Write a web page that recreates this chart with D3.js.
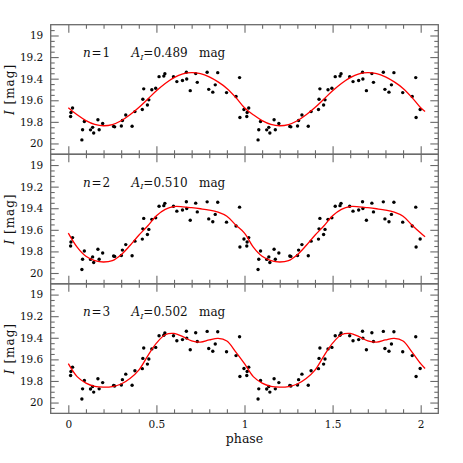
<!doctype html>
<html>

<head>
    <meta charset="utf-8">
    <title>
        Phased light curves
    </title>
    <style>
    body { margin: 0; background: #fff; }
    text { font-family: "DejaVu Serif", serif; fill: #111; }
    </style>
</head>

<body>
    <script src="https://d3js.org/d3.v7.min.js"></script>
    <script>
    // observed points, one cycle (phase, I mag) - plotted again at phase + 1
    var obsPhase = [0.013, 0.015, 0.024, 0.077, 0.081, 0.091, 0.126, 0.138, 0.144, 0.168,
        0.175, 0.195, 0.257, 0.263, 0.301, 0.307, 0.326, 0.362, 0.378, 0.420,
        0.423, 0.449, 0.457, 0.428, 0.474, 0.496, 0.515, 0.542, 0.548, 0.597,
        0.616, 0.648, 0.670, 0.672, 0.692, 0.723, 0.732, 0.788, 0.797, 0.820,
        0.834, 0.848, 0.898, 0.952, 0.972, 0.974, 0.997];
    var obsMag = [19.750, 19.713, 19.672, 19.967, 19.873, 19.796, 19.874, 19.851, 19.903, 19.780,
        19.873, 19.815, 19.842, 19.846, 19.838, 19.788, 19.737, 19.840, 19.705, 19.686,
        19.591, 19.644, 19.596, 19.494, 19.503, 19.489, 19.381, 19.376, 19.355, 19.381,
        19.427, 19.417, 19.340, 19.403, 19.511, 19.353, 19.434, 19.341, 19.499, 19.525,
        19.457, 19.344, 19.529, 19.565, 19.390, 19.759, 19.685];

    // fitted curves, one cycle
    var fitPhase = [0, 0.05, 0.10, 0.15, 0.20, 0.25, 0.30, 0.35, 0.40, 0.45, 0.50,
        0.55, 0.60, 0.65, 0.70, 0.75, 0.80, 0.85, 0.90, 0.95, 1.00];
    var fitN1 = [19.670, 19.735, 19.788, 19.823, 19.836, 19.825, 19.790, 19.735, 19.667, 19.590, 19.512,
        19.444, 19.390, 19.356, 19.344, 19.353, 19.383, 19.430, 19.490, 19.573, 19.670];
    var fitN2 = [19.630, 19.760, 19.845, 19.885, 19.898, 19.885, 19.830, 19.745, 19.650, 19.565, 19.470,
        19.410, 19.385, 19.387, 19.395, 19.405, 19.417, 19.437, 19.475, 19.555, 19.630];
    var fitN3 = [19.640, 19.760, 19.820, 19.850, 19.857, 19.852, 19.828, 19.778, 19.700, 19.570, 19.450,
        19.372, 19.360, 19.390, 19.428, 19.440, 19.420, 19.405, 19.430, 19.530, 19.640];
    var fitEndPhase = 2.025;
    var fitEnd = [19.705, 19.665, 19.685];

    var harmonics = [1, 2, 3];
    var amplitudes = ["0.489", "0.510", "0.502"];

    // axes ticks
    var xMajor = [0, 0.5, 1, 1.5, 2];
    var xLabels = ["0", "0.5", "1", "1.5", "2"];
    var yMajor = [19, 19.2, 19.4, 19.6, 19.8, 20];
    var yLabels = ["19", "19.2", "19.4", "19.6", "19.8", "20"];

    var fits = [fitN1, fitN2, fitN3];

    var width = 463, height = 463;
    var left = 50.7, right = 438.3, top0 = 24.7, panelH = 129.55;

    var svg = d3.select("body")
        .append("svg")
        .attr("width", width)
        .attr("height", height);

    var x = d3.scaleLinear().domain([-0.1, 2.1]).range([left, right]);

    var xMinor = d3.range(0, 2.001, 0.1).filter(function (v) {
        return Math.abs(v * 2 - Math.round(v * 2)) > 1e-6;
    });
    var yMinor = d3.range(18.95, 20.06, 0.05).filter(function (v) {
        return Math.abs(v * 5 - Math.round(v * 5)) > 1e-6;
    });

    // observed points over two cycles
    var points = [];
    [0, 1].forEach(function (c) {
        obsPhase.forEach(function (p, k) {
            points.push([p + c, obsMag[k]]);
        });
    });

    function styleAxis(sel) {
        sel.select(".domain").remove();
        sel.selectAll(".tick line").attr("stroke", "#6a6a6a").attr("stroke-width", 1.1);
        sel.selectAll(".tick text")
            .attr("fill", "#111")
            .style("font-family", "'DejaVu Serif', serif")
            .style("font-size", "10.5px");
    }

    harmonics.forEach(function (n, i) {
        var top = top0 + i * panelH;
        var bottom = top + panelH;
        var y = d3.scaleLinear().domain([18.9, 20.1]).range([top, bottom]);
        var g = svg.append("g");

        // ticks: bottom, top, left, right (all pointing inward)
        var bot = g.append("g").attr("transform", "translate(0," + bottom + ")");
        bot.call(d3.axisBottom(x).tickValues(xMajor).tickSize(-8).tickPadding(7.5)
            .tickFormat(function (d, k) { return i == 2 ? xLabels[k] : ""; }));
        styleAxis(bot);
        var botMin = g.append("g").attr("transform", "translate(0," + bottom + ")");
        botMin.call(d3.axisBottom(x).tickValues(xMinor).tickSize(-4).tickFormat(""));
        styleAxis(botMin);

        var tp = g.append("g").attr("transform", "translate(0," + top + ")");
        tp.call(d3.axisTop(x).tickValues(xMajor).tickSize(-8).tickFormat(""));
        styleAxis(tp);
        var tpMin = g.append("g").attr("transform", "translate(0," + top + ")");
        tpMin.call(d3.axisTop(x).tickValues(xMinor).tickSize(-4).tickFormat(""));
        styleAxis(tpMin);

        var lf = g.append("g").attr("transform", "translate(" + left + ",0)");
        lf.call(d3.axisLeft(y).tickValues(yMajor).tickSize(-8).tickPadding(7.4)
            .tickFormat(function (d, k) { return yLabels[k]; }));
        styleAxis(lf);
        var lfMin = g.append("g").attr("transform", "translate(" + left + ",0)");
        lfMin.call(d3.axisLeft(y).tickValues(yMinor).tickSize(-4).tickFormat(""));
        styleAxis(lfMin);

        var rt = g.append("g").attr("transform", "translate(" + right + ",0)");
        rt.call(d3.axisRight(y).tickValues(yMajor).tickSize(-8).tickFormat(""));
        styleAxis(rt);
        var rtMin = g.append("g").attr("transform", "translate(" + right + ",0)");
        rtMin.call(d3.axisRight(y).tickValues(yMinor).tickSize(-4).tickFormat(""));
        styleAxis(rtMin);

        // frame
        g.append("rect")
            .attr("x", left).attr("y", top)
            .attr("width", right - left).attr("height", panelH)
            .attr("fill", "none")
            .attr("stroke", "#6a6a6a")
            .attr("stroke-width", 1.3);

        // data points
        g.append("g").selectAll("circle")
            .data(points)
            .join("circle")
            .attr("cx", function (d) { return x(d[0]); })
            .attr("cy", function (d) { return y(d[1]); })
            .attr("r", 1.7)
            .attr("fill", "#000");

        // fitted curve over two cycles
        var fit = fits[i];
        var curvePts = [];
        fitPhase.forEach(function (p, k) { if (k < fitPhase.length - 1) curvePts.push([p, fit[k]]); });
        fitPhase.forEach(function (p, k) { curvePts.push([p + 1, fit[k]]); });
        curvePts.push([fitEndPhase, fitEnd[i]]);

        var line = d3.line()
            .x(function (d) { return x(d[0]); })
            .y(function (d) { return y(d[1]); })
            .curve(d3.curveCatmullRom.alpha(0.5));

        g.append("path")
            .attr("d", line(curvePts))
            .attr("fill", "none")
            .attr("stroke", "#ff0000")
            .attr("stroke-width", 1.3);

        // annotation
        var ty = top + 32.5;
        var t1 = g.append("text").attr("x", 83).attr("y", ty)
            .style("font-size", "12px").style("letter-spacing", "0.8px");
        t1.append("tspan").style("font-style", "italic").text("n");
        t1.append("tspan").text("=" + n);

        var t2 = g.append("text").attr("x", 131.5).attr("y", ty)
            .style("font-size", "12px");
        t2.append("tspan").style("font-style", "italic").text("A");
        t2.append("tspan").style("font-style", "italic").style("font-size", "8px")
            .attr("dy", 2.5).text("I");
        t2.append("tspan").attr("dy", -2.5).text("=" + amplitudes[i]);
        t2.append("tspan").attr("x", 199).text("mag");

        // y label
        var yl = g.append("text")
            .attr("transform", "translate(13.5," + (top + panelH / 2) + ") rotate(-90)")
            .attr("text-anchor", "middle")
            .style("font-size", "12px")
            .style("letter-spacing", "1px");
        yl.append("tspan").style("font-style", "italic").text("I");
        yl.append("tspan").text(" [mag]");
    });

    // x label
    svg.append("text")
        .attr("x", x(1))
        .attr("y", 443)
        .attr("text-anchor", "middle")
        .style("font-size", "12.5px")
        .text("phase");
    </script>
</body>

</html>
